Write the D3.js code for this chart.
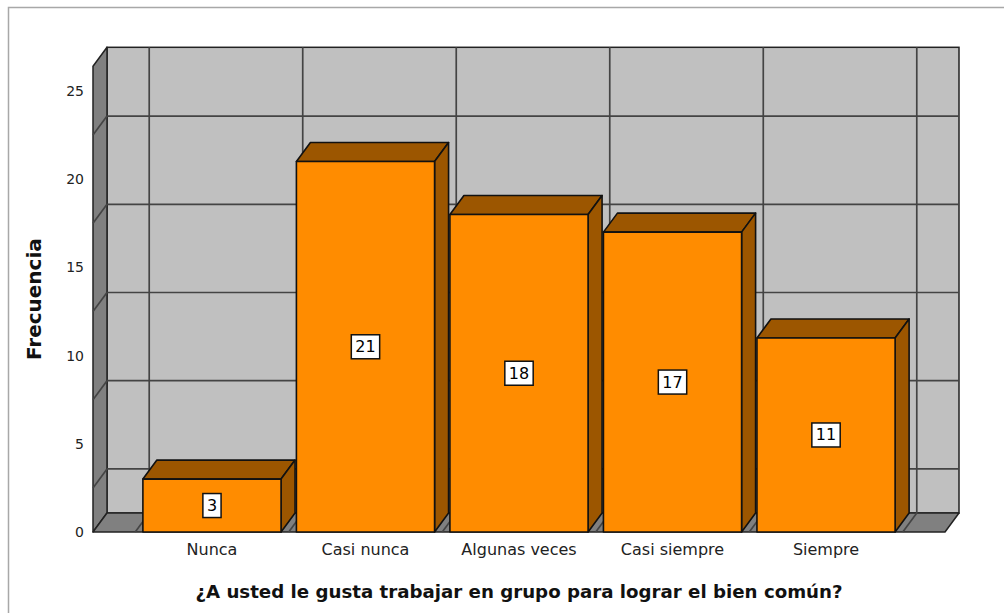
<!DOCTYPE html>
<html>
<head>
<meta charset="utf-8">
<script src="https://cdn.jsdelivr.net/npm/d3@7"></script>
<style>
  html, body { margin: 0; padding: 0; background: #fff; }
  svg { display: block; }
</style>
</head>
<body>
<svg id="chart" width="1004" height="613"></svg>
<script>
// Response categories and their frequencies
const categories = ["Nunca", "Casi nunca", "Algunas veces", "Casi siempre", "Siempre"];
const frecuencias = [3, 21, 18, 17, 11];
const yTicks = [0, 5, 10, 15, 20, 25];
const gridValues = [2.5, 7.5, 12.5, 17.5, 22.5];
const yTitle = "Frecuencia";
const xTitle = "¿A usted le gusta trabajar en grupo para lograr el bien común?";

(function () {
const svg = d3.select("#chart");
const W = 1004, H = 613;

// 3D box geometry: front face plane and depth offset
const left = 93, right = 945, base = 532;
const dx = 14, dy = -19;
const yMax = 26.4;

const y = d3.scaleLinear().domain([0, yMax]).range([base, base - yMax * 17.64]);
const x = d3.scaleBand().domain(categories).range([left, right])
  .paddingOuter(0.275).paddingInner(0);
const barW = x.bandwidth() * 0.9;

const wallBack = "#c0c0c0", wallDark = "#808080";
const gridColor = "#444";
const barFront = "#ff8c00", barShade = "#9c5600";
const fontMain = "'DejaVu Sans', sans-serif";

// outer frame
svg.append("rect").attr("x", 8.5).attr("y", 7.5).attr("width", W + 10).attr("height", H + 10)
  .attr("fill", "none").attr("stroke", "#a8a8a8").attr("stroke-width", 1.5);

const yTop = y(yMax);
const pts = a => a.map(p => p.join(",")).join(" ");

// back wall
svg.append("rect")
  .attr("x", left + dx).attr("y", yTop + dy)
  .attr("width", right - left).attr("height", base - yTop)
  .attr("fill", wallBack).attr("stroke", "#222").attr("stroke-width", 1.5);

// side wall
svg.append("polygon")
  .attr("points", pts([[left, base], [left + dx, base + dy], [left + dx, yTop + dy], [left, yTop]]))
  .attr("fill", wallDark).attr("stroke", "#222").attr("stroke-width", 1.5)
  .attr("stroke-linejoin", "round");

// floor
svg.append("polygon")
  .attr("points", pts([[left, base], [right, base], [right + dx, base + dy], [left + dx, base + dy]]))
  .attr("fill", wallDark).attr("stroke", "#222").attr("stroke-width", 1.5)
  .attr("stroke-linejoin", "round");

const grid = svg.append("g").attr("stroke", gridColor).attr("stroke-width", 1.7).attr("fill", "none");

// horizontal grid lines on back and side walls
gridValues.forEach(v => {
  grid.append("line").attr("x1", left + dx).attr("x2", right + dx)
    .attr("y1", y(v) + dy).attr("y2", y(v) + dy);
  grid.append("line").attr("x1", left).attr("x2", left + dx)
    .attr("y1", y(v)).attr("y2", y(v) + dy);
});

// vertical grid lines at category boundaries, continuing across the floor
const bounds = categories.map(c => x(c)).concat([x(categories[categories.length - 1]) + x.bandwidth()]);
bounds.forEach(b => {
  grid.append("line").attr("x1", b + dx).attr("x2", b + dx)
    .attr("y1", yTop + dy).attr("y2", base + dy);
  grid.append("line").attr("x1", b).attr("x2", b + dx)
    .attr("y1", base).attr("y2", base + dy);
});

// bars
const bars = svg.append("g").attr("stroke", "#111").attr("stroke-width", 1.6)
  .attr("stroke-linejoin", "round");
categories.forEach((c, i) => {
  const v = frecuencias[i];
  const x0 = x(c) + (x.bandwidth() - barW) / 2, x1 = x0 + barW;
  const yt = y(v);
  const g = bars.append("g");
  g.append("polygon")
    .attr("points", pts([[x0, yt], [x0 + dx, yt + dy], [x1 + dx, yt + dy], [x1, yt]]))
    .attr("fill", barShade);
  g.append("polygon")
    .attr("points", pts([[x1, yt], [x1 + dx, yt + dy], [x1 + dx, base + dy], [x1, base]]))
    .attr("fill", barShade);
  g.append("rect").attr("x", x0).attr("y", yt).attr("width", barW).attr("height", base - yt)
    .attr("fill", barFront);
});

// value labels in boxes
categories.forEach((c, i) => {
  const v = frecuencias[i];
  const cx = x(c) + x.bandwidth() / 2;
  const cy = (y(v) + base) / 2;
  const g = svg.append("g");
  const t = g.append("text").attr("x", cx).attr("y", cy)
    .attr("text-anchor", "middle").attr("dominant-baseline", "central")
    .attr("font-family", fontMain).attr("font-size", 16).attr("fill", "#000")
    .text(v);
  const bb = t.node().getBBox();
  g.insert("rect", "text")
    .attr("x", bb.x - 4).attr("y", cy - 12).attr("width", bb.width + 8).attr("height", 24)
    .attr("fill", "#fff").attr("stroke", "#111").attr("stroke-width", 1.5);
});

// y-axis tick labels
const yAxis = d3.axisLeft(y).tickValues(yTicks).tickSize(0).tickPadding(9);
const ya = svg.append("g").attr("transform", `translate(${left},0)`).call(yAxis);
ya.select(".domain").remove();
ya.selectAll("text").attr("font-family", fontMain).attr("font-size", 14).attr("fill", "#222");

// category labels
const xAxis = d3.axisBottom(x).tickSize(0).tickPadding(12);
const xa = svg.append("g").attr("transform", `translate(0,${base})`).call(xAxis);
xa.select(".domain").remove();
xa.selectAll("text").attr("font-family", fontMain).attr("font-size", 16).attr("fill", "#222");

// axis titles
svg.append("text")
  .attr("transform", `translate(41,${(base + yTop) / 2}) rotate(-90)`)
  .attr("text-anchor", "middle")
  .attr("font-family", fontMain).attr("font-weight", "bold").attr("font-size", 20).attr("fill", "#111")
  .text(yTitle);

svg.append("text")
  .attr("x", (left + right) / 2).attr("y", 598)
  .attr("text-anchor", "middle")
  .attr("font-family", fontMain).attr("font-weight", "bold").attr("font-size", 18.2).attr("fill", "#111")
  .text(xTitle);
})();
</script>
</body>
</html>
